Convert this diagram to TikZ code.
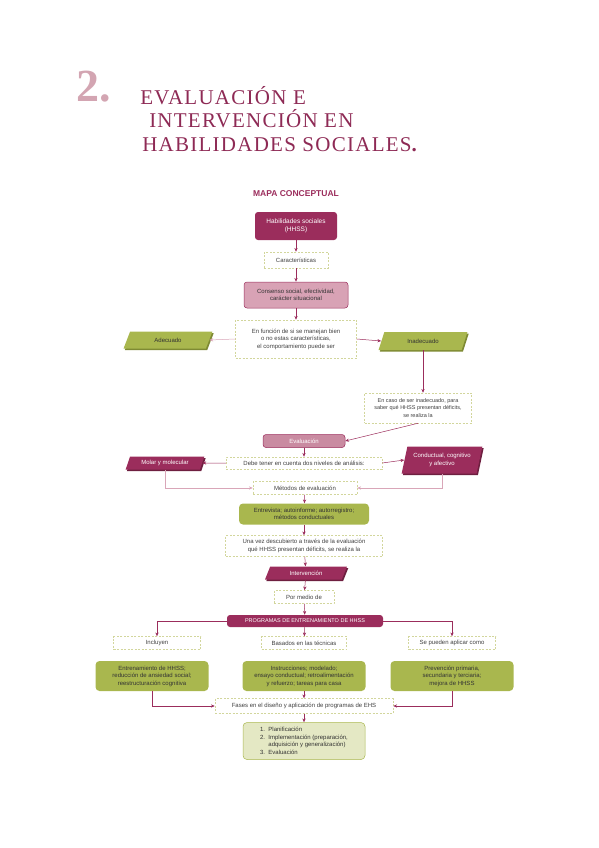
\documentclass[tikz,border=0pt]{standalone}
\usepackage{fontspec}
\setmainfont{Liberation Serif}
\newfontfamily\boxfont{Liberation Sans}
\usetikzlibrary{shapes.geometric,shadows,arrows.meta}
\definecolor{magdark}{HTML}{9B2D5C}
\definecolor{titlecol}{HTML}{8E2A55}
\definecolor{numcol}{HTML}{D3A5B2}
\definecolor{pinklt}{HTML}{D8A2B5}
\definecolor{evalfill}{HTML}{C98BA1}
\definecolor{pinkline}{HTML}{D9A6B8}
\definecolor{grn}{HTML}{A9B74E}
\definecolor{grnshade}{HTML}{7E8A33}
\definecolor{grnlt}{HTML}{E4E8C4}
\definecolor{dashcol}{HTML}{D2D69C}
\definecolor{magshade}{HTML}{6E1F40}
\begin{document}
\begin{tikzpicture}[x=1pt,y=-1pt,line width=0.5pt,
  every node/.style={font=\boxfont\fontsize{6}{7.5}\selectfont,inner sep=0pt,align=center},
  hdrbox/.style={fill=magdark,text=white,rounded corners=3pt},
  pinkbox/.style={fill=pinklt,draw=magdark,rounded corners=3pt,text=black!80},
  dashbox/.style={draw=dashcol,dash pattern=on 2pt off 1.5pt,fill=white,text=black!75},
  grnbox/.style={fill=grn,rounded corners=4pt,text=black!80},
  slant/.style={trapezium,trapezium left angle=62,trapezium right angle=118,
    trapezium stretches=true},
  grnpar/.style={slant,fill=grn,text=black!80,
    copy shadow={shadow xshift=1.3pt,shadow yshift=-1.6pt,fill=grnshade,draw=none}},
  magpar/.style={slant,fill=magdark,text=white,
    copy shadow={shadow xshift=1.3pt,shadow yshift=-1.6pt,fill=magshade,draw=none}},
  arr/.style={draw=magdark,-{Stealth[length=3.8pt,width=3.2pt]}},
  parr/.style={draw=pinkline,-{Stealth[length=3.8pt,width=3.2pt]}}]
 \useasboundingbox (0,0) rectangle (599,848);
 % title
 \node[font=\bfseries\fontsize{46}{46}\selectfont,text=numcol,anchor=base] (num) at (94,102) {2.};
 \node[font=\fontsize{21}{24}\selectfont\addfontfeatures{LetterSpace=6},text=titlecol,anchor=base west] (tl1) at (140,105) {EVALUACIÓN E};
 \node[font=\fontsize{21}{24}\selectfont\addfontfeatures{LetterSpace=6},text=titlecol,anchor=base west] (tl2) at (149,128) {INTERVENCIÓN EN};
 \node[font=\fontsize{21}{24}\selectfont\addfontfeatures{LetterSpace=6},text=titlecol,anchor=base west] (tl3) at (142,151) {HABILIDADES SOCIALES\textbf{.}};
 \node[font=\boxfont\bfseries\fontsize{8.5}{10}\selectfont,text=magdark] (mapa) at (296,194) {MAPA CONCEPTUAL};
 % upper part
 \node[hdrbox,minimum width=82,minimum height=28,font=\boxfont\fontsize{6.5}{8}\selectfont] (hhss) at (296,226) {Habilidades sociales\\(HHSS)};
 \node[dashbox,minimum width=64,minimum height=16] (carac) at (296,260) {Características};
 \node[pinkbox,minimum width=104,minimum height=26] (consenso) at (296,295) {Consenso social, efectividad,\\carácter situacional};
 \node[dashbox,minimum width=121,minimum height=38] (funcion) at (296,339) {En función de si se manejan bien\\o no estas características,\\el comportamiento puede ser};
 \node[grnpar,minimum width=89,minimum height=17] (adec) at (168,340) {Adecuado};
 \node[grnpar,minimum width=89,minimum height=18] (inadec) at (423,341) {Inadecuado};
 \node[dashbox,minimum width=107,minimum height=30,font=\boxfont\fontsize{5.5}{7.5}\selectfont] (encaso) at (418,408) {En caso de ser inadecuado, para\\saber qué HHSS presentan déficits,\\se realiza la};
 % evaluation
 \node[fill=evalfill,draw=magdark,rounded corners=3pt,text=white,minimum width=82,minimum height=13] (eval) at (304,441) {Evaluación};
 \node[dashbox,minimum width=156,minimum height=12] (debe) at (304,463) {Debe tener en cuenta dos niveles de análisis:};
 \node[magpar,minimum width=79,minimum height=13] (molar) at (165,463) {Molar y molecular};
 \node[magpar,trapezium left angle=70,trapezium right angle=110,minimum width=81,minimum height=27] (cond) at (442,460) {Conductual, cognitivo\\y afectivo};
 \node[dashbox,minimum width=104,minimum height=13] (metodos) at (305,488) {Métodos de evaluación};
 \node[grnbox,minimum width=130,minimum height=21] (entrev) at (304,514) {Entrevista; autoinforme; autorregistro;\\métodos conductuales};
 \node[dashbox,minimum width=157,minimum height=21] (unavez) at (304,546) {Una vez descubierto a través de la evaluación\\qué HHSS presentan déficits, se realiza la};
 % intervention
 \node[magpar,minimum width=82,minimum height=13] (interv) at (306,573) {Intervención};
 \node[dashbox,minimum width=60,minimum height=13] (pormedio) at (304,597) {Por medio de};
 \node[hdrbox,minimum width=156,minimum height=12,font=\boxfont\fontsize{5.5}{7}\selectfont] (prog) at (305,621) {PROGRAMAS DE ENTRENAMIENTO DE HHSS};
 \node[dashbox,minimum width=87,minimum height=13] (incl) at (157,643) {Incluyen};
 \node[dashbox,minimum width=85,minimum height=13] (basados) at (304,643) {Basados en las técnicas};
 \node[dashbox,minimum width=87,minimum height=13] (sepueden) at (452,643) {Se pueden aplicar como};
 \node[grnbox,minimum width=113,minimum height=30] (g1) at (152,676) {Entrenamiento de HHSS;\\reducción de ansiedad social;\\reestructuración cognitiva};
 \node[grnbox,minimum width=123,minimum height=30] (g2) at (304,676) {Instrucciones; modelado;\\ensayo conductual; retroalimentación\\y refuerzo; tareas para casa};
 \node[grnbox,minimum width=123,minimum height=30] (g3) at (452,676) {Prevención primaria,\\secundaria y terciaria;\\mejora de HHSS};
 \node[dashbox,minimum width=178,minimum height=15] (fases) at (304,706) {Fases en el diseño y aplicación de programas de EHS};
 \node[fill=grnlt,draw=grn,rounded corners=4pt,minimum width=122,minimum height=37,align=left,text=black!80] (lista) at (304,741)
  {1.\ \ Planificación\\2.\ \ Implementación (preparación,\\\phantom{2.\ \ }adquisición y generalización)\\3.\ \ Evaluación};
 % connectors
 \draw[arr] (hhss) -- (carac);
 \draw[arr] (carac) -- (consenso);
 \draw[arr] (consenso) -- (funcion);
 \draw[parr] (funcion.west) -- (adec.east);
 \draw[arr] (funcion.east) -- (inadec.west);
 \draw[arr] (inadec.south) -- (inadec.south |- encaso.north);
 \draw[arr] (encaso.south) -- (eval.east);
 \draw[arr] (eval) -- (debe);
 \draw[arr] (debe.west) -- (molar.east);
 \draw[arr] (debe.east) -- (cond.west);
 \draw[parr] (molar.south) |- (metodos.west);
 \draw[parr] (cond.south) |- (metodos.east);
 \draw[arr] (metodos) -- (entrev);
 \draw[arr] (entrev) -- (unavez);
 \draw[arr] (unavez) -- (interv);
 \draw[arr] (interv) -- (pormedio);
 \draw[arr] (pormedio) -- (prog);
 \draw[arr] (prog.west) -| (incl.north);
 \draw[arr] (prog) -- (basados);
 \draw[arr] (prog.east) -| (sepueden.north);
 \draw[arr] (g1.south) |- (fases.west);
 \draw[arr] (g2) -- (fases);
 \draw[arr] (g3.south) |- (fases.east);
 \draw[arr] (fases) -- (lista);
\end{tikzpicture}
\end{document}
